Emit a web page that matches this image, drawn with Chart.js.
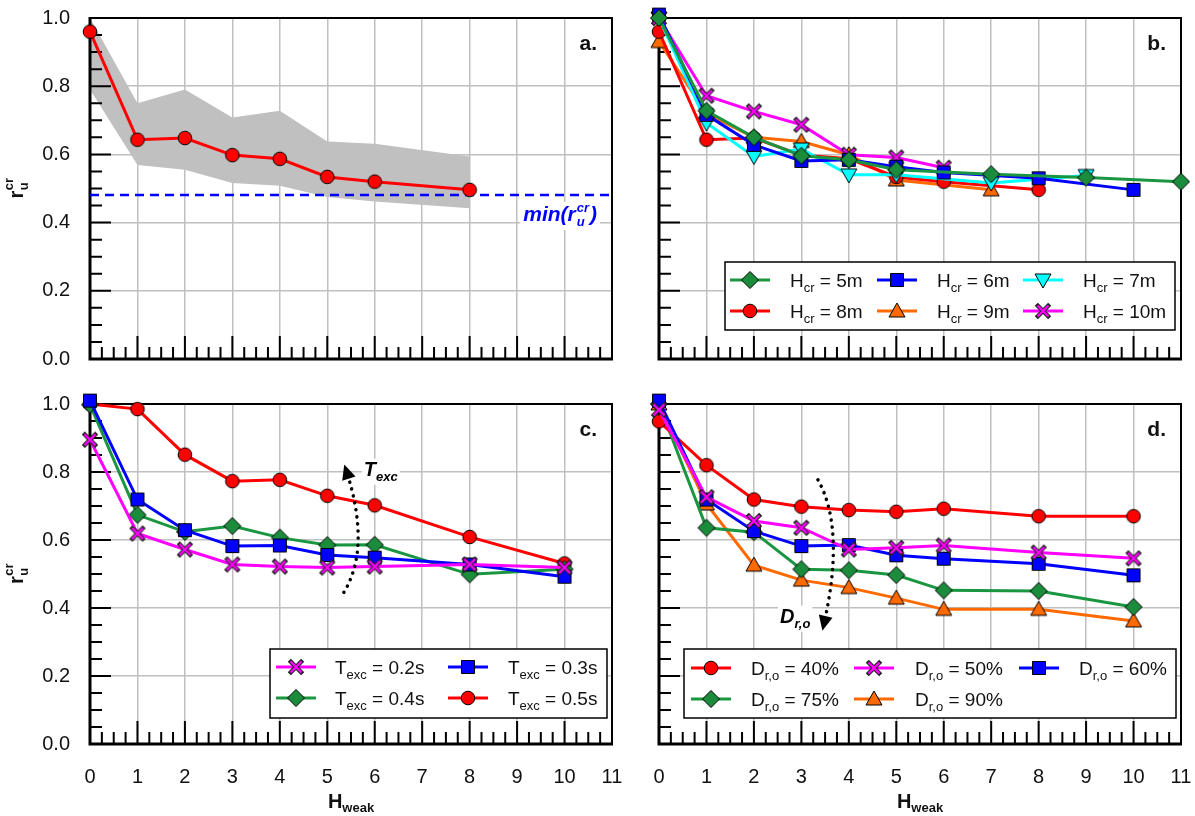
<!DOCTYPE html>
<html><head><meta charset="utf-8">
<script src="https://cdn.jsdelivr.net/npm/chart.js@4.4.0/dist/chart.umd.min.js"></script>
<style>
html,body{margin:0;padding:0;background:#fff;}
#wrap{position:relative;width:1195px;height:816px;overflow:hidden;background:#fff;}
canvas{position:absolute;}
</style></head><body>
<div id="wrap">
<canvas id="ca" style="left:0;top:0" width="640" height="400"></canvas>
<canvas id="cb" style="left:569px;top:0" width="626" height="400"></canvas>
<canvas id="cc" style="left:0;top:386px" width="640" height="430"></canvas>
<canvas id="cd" style="left:569px;top:386px" width="626" height="430"></canvas>
</div>
<script>
// ---------------- DATA ----------------
const X_MIN = 0, X_MAX = 11;
// panel a
const aX     = [0,1,2,3,4,5,6,8];
const aMean  = [0.96,0.643,0.648,0.598,0.587,0.534,0.52,0.496];
const aUpper = [1.0,0.75,0.79,0.708,0.728,0.638,0.631,0.594];
const aLower = [0.79,0.569,0.555,0.516,0.508,0.475,0.462,0.442];
const aMin   = 0.481;
// panel b (H_cr)
const bX5  = [0,1,2,3,4,5,7,9,11];  const bY5  = [1.0,0.728,0.65,0.596,0.584,0.555,0.542,0.532,0.52];
const bX6  = [0,1,2,3,4,5,6,8,10];  const bY6  = [1.01,0.716,0.628,0.581,0.584,0.564,0.547,0.530,0.496];
const bX7  = [0,1,2,3,4,5,7,9];     const bY7  = [1.0,0.692,0.594,0.616,0.54,0.54,0.516,0.538];
const bX8  = [0,1,2,3,4,5,6,8];     const bY8  = [0.96,0.643,0.648,0.598,0.587,0.534,0.52,0.496];
const bX9  = [0,1,2,3,4,5,7];       const bY9  = [0.931,0.72,0.65,0.638,0.599,0.525,0.496];
const bX10 = [0,1,2,3,4,5,6];       const bY10 = [1.0,0.772,0.726,0.687,0.599,0.591,0.561];
const bLabels = ['5m','6m','7m','8m','9m','10m'];
// panel c (T_exc)
const cX   = [0,1,2,3,4,5,6,8,10];
const c02  = [0.895,0.619,0.572,0.528,0.522,0.519,0.522,0.528,0.519];
const c03  = [1.01,0.719,0.629,0.582,0.584,0.556,0.548,0.528,0.492];
const c04  = [0.998,0.674,0.624,0.641,0.607,0.585,0.586,0.499,0.514];
const c05  = [1.0,0.985,0.851,0.773,0.777,0.73,0.702,0.609,0.531];
const cLabels = ['0.2s','0.3s','0.4s','0.5s'];
// panel d (D_r,o)
const dX   = [0,1,2,3,4,5,6,8,10];
const d40  = [0.949,0.82,0.719,0.698,0.688,0.683,0.692,0.67,0.67];
const d50  = [0.983,0.726,0.656,0.636,0.572,0.577,0.584,0.563,0.546];
const d60  = [1.01,0.719,0.626,0.582,0.585,0.555,0.545,0.53,0.496];
const d75  = [1.0,0.636,0.623,0.514,0.511,0.497,0.452,0.45,0.403];
const d90  = [1.0,0.706,0.526,0.482,0.46,0.429,0.396,0.396,0.362];
const dLabels = ['40%','50%','60%','75%','90%'];
// annotation arrows (data units)
const cArrow = {from:[5.35,0.446], via:[5.65,0.60], to:[5.41,0.80], text:[5.77,0.789]};
const dArrow = {from:[3.35,0.777], via:[3.67,0.60], to:[3.48,0.356], text:[2.55,0.357]};

// ---------------- STYLE ----------------
const FAM = '"Liberation Sans", Arial, Helvetica, sans-serif';
const C = {red:'#ff0000', blue:'#0000ff', green:'#1a9641', gfill:'#1a8c3c', cyan:'#00ffff', orange:'#ff6a00', magenta:'#ff00ff', grid:'#c0c0c0'};

function mk(type, fill){
  const c = document.createElement('canvas'); const S=22; c.width=S; c.height=S;
  const g = c.getContext('2d'); const m=S/2;
  g.lineWidth=1; g.strokeStyle='#000'; g.fillStyle=fill; g.lineJoin='miter';
  if(type==='cross'){
    const r=5.5, e=1.2;
    g.lineCap='butt'; g.strokeStyle='#222'; g.lineWidth=4.4;
    g.beginPath(); g.moveTo(m-r-e,m-r-e); g.lineTo(m+r+e,m+r+e); g.moveTo(m+r+e,m-r-e); g.lineTo(m-r-e,m+r+e); g.stroke();
    g.strokeStyle=fill; g.lineWidth=2.4;
    g.beginPath(); g.moveTo(m-r,m-r); g.lineTo(m+r,m+r); g.moveTo(m+r,m-r); g.lineTo(m-r,m+r); g.stroke();
    return c;
  }
  g.beginPath();
  if(type==='circle'){ g.arc(m,m,6.8,0,Math.PI*2); }
  else if(type==='square'){ g.rect(m-6.5,m-6.5,13,13); }
  else if(type==='diamond'){ g.moveTo(m,m-8.5); g.lineTo(m+8.5,m); g.lineTo(m,m+8.5); g.lineTo(m-8.5,m); g.closePath(); }
  else if(type==='triUp'){ g.moveTo(m,m-8); g.lineTo(m+8,m+6); g.lineTo(m-8,m+6); g.closePath(); }
  else if(type==='triDown'){ g.moveTo(m,m+8); g.lineTo(m+8,m-6); g.lineTo(m-8,m-6); g.closePath(); }
  g.fill(); g.stroke();
  return c;
}
const M = {
  circle: mk('circle', C.red), square: mk('square', C.blue), diamond: mk('diamond', C.gfill),
  triUp: mk('triUp', C.orange), triDown: mk('triDown', C.cyan), cross: mk('cross', C.magenta)
};

function series(xs, ys, color, marker, order){
  return {data: xs.map((x,i)=>({x, y: ys[i]})), borderColor: color, backgroundColor: color, borderWidth: 3,
    pointStyle: marker, pointRadius: 8, pointHoverRadius: 8, fill:false, order, clip:false};
}

// ---------------- TEXT HELPERS ----------------
function rich(ctx, x, y, parts){
  for(const p of parts){ ctx.font = p.f; ctx.fillText(p.t, x, y + (p.dy||0)); x += ctx.measureText(p.t).width; }
  return x;
}
function richWidth(ctx, parts){ let w=0; for(const p of parts){ ctx.font=p.f; w+=ctx.measureText(p.t).width; } return w; }
const LF = '19px '+FAM, LS = '13px '+FAM;
function legParts(sym, sub, val){ return [{t:sym,f:LF},{t:sub,f:LS,dy:5},{t:' = '+val,f:LF}]; }

// ---------------- PANEL DECORATION ----------------
const DECO = {
  ca: {label:'a.', yTitle:true},
  cb: {label:'b.', legend:{box:[156,262,450,68], rows:[280,311], sx:[161,308,454], tx:[221,368,514],
        items:[[C.green,M.diamond,legParts('H','cr',bLabels[0])],[C.blue,M.square,legParts('H','cr',bLabels[1])],[C.cyan,M.triDown,legParts('H','cr',bLabels[2])],
               [C.red,M.circle,legParts('H','cr',bLabels[3])],[C.orange,M.triUp,legParts('H','cr',bLabels[4])],[C.magenta,M.cross,legParts('H','cr',bLabels[5])]], cols:3}},
  cc: {label:'c.', yTitle:true, xTitle:true, arrow:cArrow, arrowText:[{t:'T',f:'italic bold 20px '+FAM},{t:'exc',f:'italic bold 13px '+FAM,dy:5}],
       legend:{box:[270,263,337,69], rows:[281,312], sx:[276,448], tx:[335,508],
        items:[[C.magenta,M.cross,legParts('T','exc',cLabels[0])],[C.blue,M.square,legParts('T','exc',cLabels[1])],
               [C.green,M.diamond,legParts('T','exc',cLabels[2])],[C.red,M.circle,legParts('T','exc',cLabels[3])]], cols:2}},
  cd: {label:'d.', xTitle:true, arrow:dArrow, arrowText:[{t:'D',f:'italic bold 20px '+FAM},{t:'r,o',f:'italic bold 13px '+FAM,dy:5}],
       legend:{box:[115,263,492,69], rows:[282,313], sx:[122,285,450], tx:[182,346,510],
        items:[[C.red,M.circle,legParts('D','r,o',dLabels[0])],[C.magenta,M.cross,legParts('D','r,o',dLabels[1])],[C.blue,M.square,legParts('D','r,o',dLabels[2])],
               [C.green,M.diamond,legParts('D','r,o',dLabels[3])],[C.orange,M.triUp,legParts('D','r,o',dLabels[4])]], cols:3}}
};

const deco = {
  id:'deco',
  beforeDatasetsDraw(chart){
    const {ctx, chartArea:A, scales:{x,y}} = chart;
    ctx.save(); ctx.strokeStyle='#000'; ctx.lineWidth=2; ctx.beginPath();
    for(let i=0;i<=20;i++){ const py=y.getPixelForValue(i*0.05); const L=(i%4===0)?21:12; ctx.moveTo(A.left,py); ctx.lineTo(A.left+L,py); }
    for(let i=0;i<=44;i++){ const px=x.getPixelForValue(i*0.25); const L=(i%4===0)?23:12; ctx.moveTo(px,A.bottom); ctx.lineTo(px,A.bottom-L); }
    ctx.stroke();
    ctx.lineWidth=2; ctx.beginPath(); ctx.moveTo(A.left,A.top); ctx.lineTo(A.right,A.top); ctx.lineTo(A.right,A.bottom); ctx.stroke();
    ctx.lineWidth=3; ctx.beginPath(); ctx.moveTo(A.left,A.top-1); ctx.lineTo(A.left,A.bottom); ctx.lineTo(A.right+1,A.bottom); ctx.stroke();
    ctx.restore();
  },
  afterDraw(chart){
    const d = DECO[chart.canvas.id]; const {ctx, chartArea:A, scales:{x,y}} = chart;
    ctx.save(); ctx.fillStyle='#111'; ctx.textBaseline='alphabetic';
    ctx.font='bold 21px '+FAM; ctx.textAlign='right'; ctx.fillText(d.label, A.right-15, A.top+32);
    ctx.textAlign='left';
    if(d.yTitle){
      ctx.save(); ctx.translate(23,(A.top+A.bottom)/2); ctx.rotate(-Math.PI/2);
      ctx.font='bold 20px '+FAM; const wr=ctx.measureText('r').width;
      ctx.font='bold 13px '+FAM; const wc=ctx.measureText('cr').width;
      const x0=-(wr+wc)/2;
      ctx.font='bold 20px '+FAM; ctx.fillText('r',x0,0);
      ctx.font='bold 13px '+FAM; ctx.fillText('u',x0+wr+0.5,5); ctx.fillText('cr',x0+wr+0.5,-10);
      ctx.restore();
    }
    if(d.xTitle){
      const parts=[{t:'H',f:'bold 20px '+FAM},{t:'weak',f:'bold 13px '+FAM,dy:4}];
      const w=richWidth(ctx,parts); rich(ctx,(A.left+A.right)/2-w/2, A.bottom+64, parts);
    }
    if(chart.canvas.id==='ca'){
      const yb = y.getPixelForValue(aMin)+26;
      ctx.font='italic bold 21px '+FAM; const w1=ctx.measureText('min(r').width;
      ctx.font='italic bold 13px '+FAM; const w2=ctx.measureText('cr').width;
      ctx.font='italic bold 21px '+FAM; const w3=ctx.measureText(')').width;
      const tot=w1+w2+w3+2; const x0=A.right-15-tot;
      ctx.fillStyle='#fff'; ctx.fillRect(x0-3,yb-19,tot+6,28);
      ctx.fillStyle='#0000ff';
      ctx.font='italic bold 21px '+FAM; ctx.fillText('min(r',x0,yb);
      ctx.font='italic bold 13px '+FAM; ctx.fillText('u',x0+w1+1,yb+5); ctx.fillText('cr',x0+w1+1,yb-9);
      ctx.font='italic bold 21px '+FAM; ctx.fillText(')',x0+w1+w2+2,yb);
      ctx.fillStyle='#111';
    }
    if(d.arrow){
      const P=(p)=>[x.getPixelForValue(p[0]), y.getPixelForValue(p[1])];
      const p0=P(d.arrow.from), pm=P(d.arrow.via), p2=P(d.arrow.to);
      const c=[2*pm[0]-0.5*(p0[0]+p2[0]), 2*pm[1]-0.5*(p0[1]+p2[1])];
      ctx.save(); ctx.strokeStyle='#000'; ctx.lineWidth=3.5; ctx.lineCap='round'; ctx.setLineDash([0.1,7]);
      ctx.beginPath(); ctx.moveTo(p0[0],p0[1]); ctx.quadraticCurveTo(c[0],c[1],p2[0],p2[1]); ctx.stroke(); ctx.restore();
      const ang=Math.atan2(p2[1]-c[1], p2[0]-c[0]);
      ctx.save(); ctx.translate(p2[0],p2[1]); ctx.rotate(ang); ctx.fillStyle='#000';
      ctx.beginPath(); ctx.moveTo(8,0); ctx.lineTo(-7,-7); ctx.lineTo(-7,7); ctx.closePath(); ctx.fill(); ctx.restore();
      const tp=P(d.arrow.text); const w=richWidth(ctx,d.arrowText);
      ctx.fillStyle='#fff'; ctx.fillRect(tp[0]-2,tp[1]-17,w+4,26);
      ctx.fillStyle='#000'; rich(ctx,tp[0],tp[1],d.arrowText);
    }
    if(d.legend){
      const L=d.legend; const [bx,by,bw,bh]=L.box;
      ctx.fillStyle='#fff'; ctx.fillRect(bx,by,bw,bh);
      ctx.strokeStyle='#000'; ctx.lineWidth=1.5; ctx.strokeRect(bx,by,bw,bh);
      L.items.forEach((it,i)=>{
        const r=Math.floor(i/L.cols), col=i%L.cols; const yy=L.rows[r]; const sx=L.sx[col];
        ctx.strokeStyle=it[0]; ctx.lineWidth=3; ctx.beginPath(); ctx.moveTo(sx,yy); ctx.lineTo(sx+40,yy); ctx.stroke();
        ctx.drawImage(it[1], sx+20-it[1].width/2, yy-it[1].height/2);
        ctx.fillStyle='#111'; rich(ctx, L.tx[col], yy+7, it[2]);
      });
    }
    ctx.restore();
  }
};

function noPad(s){ s.paddingTop=0; s.paddingBottom=0; s.paddingLeft=0; s.paddingRight=0; }

function makeChart(id, datasets, o){
  const gridOpt = {color:C.grid, lineWidth:1.5, drawTicks:false};
  return new Chart(document.getElementById(id), {
    type:'line',
    data:{datasets},
    options:{
      responsive:false, animation:false, devicePixelRatio:1,
      layout:{padding:{left:0, top:18, right:o.padRight, bottom:0}},
      plugins:{legend:{display:false}, tooltip:{enabled:false}, filler:{drawTime:'beforeDatasetsDraw'}},
      elements:{line:{tension:0}},
      scales:{
        x:{type:'linear', min:X_MIN, max:X_MAX, afterFit(s){ s.height=o.xH; noPad(s); },
           grid:gridOpt, border:{display:false},
           ticks:{display:o.xLabels, stepSize:1, padding:21, autoSkip:false, maxRotation:0, color:'#111', font:{family:FAM,size:20}}},
        y:{type:'linear', min:0, max:1, afterFit(s){ s.width=90; noPad(s); },
           grid:gridOpt, border:{display:false},
           ticks:{display:o.yLabels, stepSize:0.2, padding:20, color:'#111', font:{family:FAM,size:20}, callback:v=>Number(v).toFixed(1)}}
      }
    },
    plugins:[deco]
  });
}

// panel a
makeChart('ca', [
  series(aX, aMean, C.red, M.circle, 1),
  {data:[{x:X_MIN,y:aMin},{x:X_MAX,y:aMin}], borderColor:C.blue, borderWidth:2.5, borderDash:[9,6], pointRadius:0, fill:false, order:5, clip:false},
  {data:aX.map((x,i)=>({x,y:aUpper[i]})), borderWidth:0, borderColor:'rgba(0,0,0,0)', pointRadius:0, fill:'+1', backgroundColor:C.grid, order:10},
  {data:aX.map((x,i)=>({x,y:aLower[i]})), borderWidth:0, borderColor:'rgba(0,0,0,0)', pointRadius:0, fill:false, order:11}
], {padRight:28, xH:41, xLabels:false, yLabels:true});

// panel b
makeChart('cb', [
  series(bX5, bY5, C.green, M.diamond, 1),
  series(bX6, bY6, C.blue, M.square, 2),
  series(bX7, bY7, C.cyan, M.triDown, 3),
  series(bX10, bY10, C.magenta, M.cross, 4),
  series(bX8, bY8, C.red, M.circle, 5),
  series(bX9, bY9, C.orange, M.triUp, 6)
], {padRight:14, xH:41, xLabels:false, yLabels:false});

// panel c
makeChart('cc', [
  series(cX, c02, C.magenta, M.cross, 1),
  series(cX, c03, C.blue, M.square, 2),
  series(cX, c04, C.green, M.diamond, 3),
  series(cX, c05, C.red, M.circle, 4)
], {padRight:28, xH:72, xLabels:true, yLabels:true});

// panel d
makeChart('cd', [
  series(dX, d50, C.magenta, M.cross, 1),
  series(dX, d60, C.blue, M.square, 2),
  series(dX, d40, C.red, M.circle, 3),
  series(dX, d75, C.green, M.diamond, 4),
  series(dX, d90, C.orange, M.triUp, 5)
], {padRight:14, xH:72, xLabels:true, yLabels:false});
</script>
</body></html>
